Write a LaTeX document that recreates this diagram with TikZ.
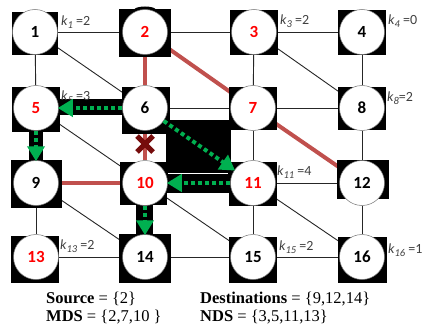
\documentclass[tikz,border=0pt]{standalone}
\usepackage{fontspec}
\setmainfont{Carlito}
\newfontfamily\serifx{Liberation Serif}
\usetikzlibrary{arrows.meta}
\definecolor{redline}{RGB}{192,80,77}
\definecolor{grn}{RGB}{0,176,80}
\definecolor{numred}{RGB}{255,0,0}
\definecolor{xred}{RGB}{118,12,12}
\definecolor{lab}{RGB}{64,64,64}
\pgfdeclarelayer{bg}
\pgfdeclarelayer{edges}
\pgfdeclarelayer{boxes}
\pgfdeclarelayer{top}
\pgfsetlayers{bg,edges,boxes,main,top}
\newcommand{\kl}[2]{{\itshape k\raisebox{-0.45ex}{\fontsize{10.5}{10.5}\selectfont #1}}#2}
\begin{document}
\begin{tikzpicture}[x=1pt,y=-1pt,
  nd/.style={circle,fill=white,draw=black!55,line width=0.5pt,minimum size=45pt,inner sep=0pt,
    font=\fontsize{17}{17}\selectfont\bfseries,text=black},
  rednd/.style={nd,text=numred},
  edge/.style={draw=black!85,line width=0.9pt},
  redge/.style={draw=redline,line width=4pt},
  garrow/.style={draw=grn,line width=4pt,dash pattern=on 4pt off 3pt,
    -{Triangle[length=15pt,width=17pt,fill=grn]}, shorten >=-1pt},
  lbl/.style={anchor=west,font=\fontsize{14}{14}\selectfont,text=lab,inner sep=0pt},
  btext/.style={anchor=base west,font=\serifx\fontsize{16.5}{16.5}\selectfont,inner sep=0pt}]
\useasboundingbox (0,0) rectangle (427,334);
\begin{pgfonlayer}{bg}
  \fill[white] (0,0) rectangle (427,334);
\end{pgfonlayer}

% nodes
\node[nd]    (n1)  at (35,32)  {1};
\node[rednd] (n2)  at (145,32) {2};
\node[rednd] (n3)  at (254,32) {3};
\node[nd]    (n4)  at (362,32) {4};
\node[rednd] (n5)  at (36,108) {5};
\node[nd]    (n6)  at (145,108) {6};
\node[rednd] (n7)  at (253,108) {7};
\node[nd]    (n8)  at (362,108) {8};
\node[nd]    (n9)  at (36,183) {9};
\node[rednd] (n10) at (145,183) {10};
\node[rednd] (n11) at (253,183) {11};
\node[nd]    (n12) at (362,183) {12};
\node[rednd] (n13) at (36,257) {13};
\node[nd]    (n14) at (145,257) {14};
\node[nd]    (n15) at (253,257) {15};
\node[nd]    (n16) at (362,257) {16};

\begin{pgfonlayer}{edges}
  \foreach \a/\b in {n1/n2,n2/n3,n3/n4,n5/n6,n6/n7,n7/n8,n9/n10,n10/n11,n11/n12,n13/n14,n14/n15,n15/n16,
                     n1/n5,n2/n6,n3/n7,n4/n8,n5/n9,n6/n10,n7/n11,n8/n12,n9/n13,n10/n14,n11/n15,n12/n16,
                     n1/n6,n2/n7,n3/n8,n5/n10,n6/n11,n7/n12,n9/n14,n10/n15,n11/n16}
    \draw[edge] (\a) -- (\b);
  \draw[redge] (n2) -- (n6);
  \draw[redge] (n6) -- (n10);
  \draw[redge] (n9) -- (n10);
  \draw[redge] (n2) -- (n7);
  \draw[redge] (n7) -- (n12);
\end{pgfonlayer}

\begin{pgfonlayer}{boxes}
  % black squares behind the circles
  \fill (12,12) rectangle (58,55);
  \fill (119,9) rectangle (171,57);
  \fill (145,10) ellipse (11pt and 3.5pt);
  \fill (230,10) rectangle (278,55);
  \fill (338,10) rectangle (386,55);
  \fill (12,87) rectangle (60,132);
  \fill (122,87) rectangle (170,134);
  \fill (229,87) rectangle (277,130);
  \fill (338,87) rectangle (386,130);
  \fill (11,160) rectangle (62,208);
  \fill (120,162) rectangle (167,205);
  \fill (229,162) rectangle (277,206);
  \fill (337,160) rectangle (389,199);
  \fill (11,236) rectangle (59,283);
  \fill (119,234) rectangle (171,283);
  \fill (229,237) rectangle (277,283);
  \fill (338,237) rectangle (387,283);
  % black backgrounds of the arrows
  \fill (58,99) rectangle (125,115);
  \fill (29,130) rectangle (43,162);
  \fill (136,203) rectangle (153,236);
  \fill (166,120) rectangle (231,172);
  \fill (166,171) rectangle (230,193);
  \draw[white,line width=0.8pt] (168,173.5) -- (228,173.5);
\end{pgfonlayer}

\begin{pgfonlayer}{top}
  \draw[garrow] (n6) -- (n5);
  \draw[garrow] (n5) -- (n9);
  \draw[garrow] (n6) -- (n11);
  \draw[garrow] (n11) -- (n10);
  \draw[garrow] (n10) -- (n14);
  % blocked link marker
  \draw[xred,line width=5pt] (137,136) -- (153,152) (153,136) -- (137,152);
\end{pgfonlayer}

% degree labels
\node[lbl] (k1)  at (61,22)  {\kl{1}{ =2}};
\node[lbl] (k3)  at (280,21) {\kl{3}{ =2}};
\node[lbl] (k4)  at (388,21) {\kl{4}{ =0}};
\node[lbl] (k5)  at (61,97)  {\kl{5}{ =3}};
\node[lbl] (k8)  at (387,98) {\kl{8}{=2}};
\node[lbl] (k11) at (277,172) {\kl{11}{ =4}};
\node[lbl] (k13) at (60,246) {\kl{13}{ =2}};
\node[lbl] (k15) at (279,247) {\kl{15}{ =2}};
\node[lbl] (k16) at (388,250) {\kl{16}{ =1}};

% bottom text
\node[btext] (src) at (46,303) {\textbf{Source} = \{2\}};
\node[btext] (dst) at (200,303) {\textbf{Destinations} = \{9,12,14\}};
\node[btext] (mds) at (46,321) {\textbf{MDS} = \{2,7,10 \}};
\node[btext] (nds) at (200,321) {\textbf{NDS} = \{3,5,11,13\}};
\end{tikzpicture}
\end{document}
